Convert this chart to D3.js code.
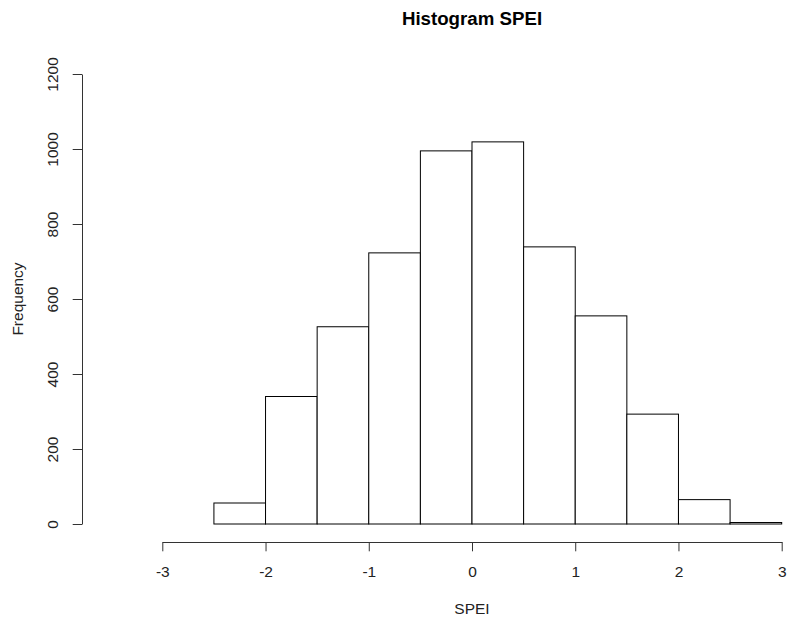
<!DOCTYPE html>
<html>
<head>
<meta charset="utf-8">
<script src="https://cdn.jsdelivr.net/npm/d3@7"></script>
<style>
  html, body { margin: 0; padding: 0; background: #fff; }
  svg { display: block; font-family: "Liberation Sans", Arial, sans-serif; }
</style>
</head>
<body>
<svg id="chart" width="787" height="622"></svg>
<script>
// Histogram of SPEI values: bin edges and counts per bin
const binEdges = [-2.5, -2, -1.5, -1, -0.5, 0, 0.5, 1, 1.5, 2, 2.5, 3];
const binCounts = [56, 340, 526, 723, 995, 1019, 739, 555, 293, 65, 4];
const xTicks = [-3, -2, -1, 0, 1, 2, 3];
const yTicks = [0, 200, 400, 600, 800, 1000, 1200];
const titleText = "Histogram SPEI";
const xLabel = "SPEI";
const yLabel = "Frequency";

const bins = binCounts.map((c, i) => ({ x0: binEdges[i], x1: binEdges[i + 1], count: c }));

const svg = d3.select("#chart");
const x = d3.scaleLinear().domain([-3, 3]).range([162.3, 781.7]);
const y = d3.scaleLinear().domain([0, 1200]).range([524, 74]);
const xAxisY = 542;
const yAxisX = 82;
const fontSize = 15.5;

// bars
svg.append("g")
  .selectAll("rect")
  .data(bins)
  .join("rect")
  .attr("x", d => x(d.x0))
  .attr("y", d => y(d.count))
  .attr("width", d => x(d.x1) - x(d.x0))
  .attr("height", d => y(0) - y(d.count))
  .attr("fill", "#fff")
  .attr("stroke", "#000")
  .attr("stroke-width", 1);

// x axis
const gx = svg.append("g")
  .attr("transform", `translate(0,${xAxisY})`)
  .call(d3.axisBottom(x).tickValues(xTicks).tickFormat(d3.format("d"))
    .tickSize(9.3).tickSizeOuter(0));
gx.select(".domain").attr("stroke", "#333");
gx.selectAll(".tick line").attr("stroke", "#333");
gx.selectAll(".tick text")
  .attr("y", 35).attr("dy", 0)
  .attr("fill", "#222")
  .style("font-size", fontSize + "px")
  .style("font-family", "'Liberation Sans', Arial, sans-serif")
  .text(d => d < 0 ? "-" + Math.abs(d) : String(d));

// y axis
const gy = svg.append("g")
  .attr("transform", `translate(${yAxisX},0)`)
  .call(d3.axisLeft(y).tickValues(yTicks).tickFormat(d3.format("d"))
    .tickSize(9.3).tickSizeOuter(0));
gy.select(".domain").attr("stroke", "#333");
gy.selectAll(".tick line").attr("stroke", "#333");
gy.selectAll(".tick text")
  .attr("transform", "rotate(-90)")
  .attr("x", 0).attr("y", -24.5).attr("dy", 0)
  .attr("text-anchor", "middle")
  .attr("fill", "#222")
  .style("font-size", fontSize + "px")
  .style("font-family", "'Liberation Sans', Arial, sans-serif");

// title
svg.append("text")
  .attr("x", (x.range()[0] + x.range()[1]) / 2)
  .attr("y", 25)
  .attr("text-anchor", "middle")
  .style("font-size", "18.7px")
  .style("font-weight", "bold")
  .text(titleText);

// x label
svg.append("text")
  .attr("x", (x.range()[0] + x.range()[1]) / 2)
  .attr("y", 614)
  .attr("text-anchor", "middle")
  .attr("fill", "#222")
  .style("font-size", fontSize + "px")
  .text(xLabel);

// y label
svg.append("text")
  .attr("transform", `translate(22.5,${(y(0) + y(1200)) / 2}) rotate(-90)`)
  .attr("text-anchor", "middle")
  .attr("fill", "#222")
  .style("font-size", fontSize + "px")
  .text(yLabel);
</script>
</body>
</html>
